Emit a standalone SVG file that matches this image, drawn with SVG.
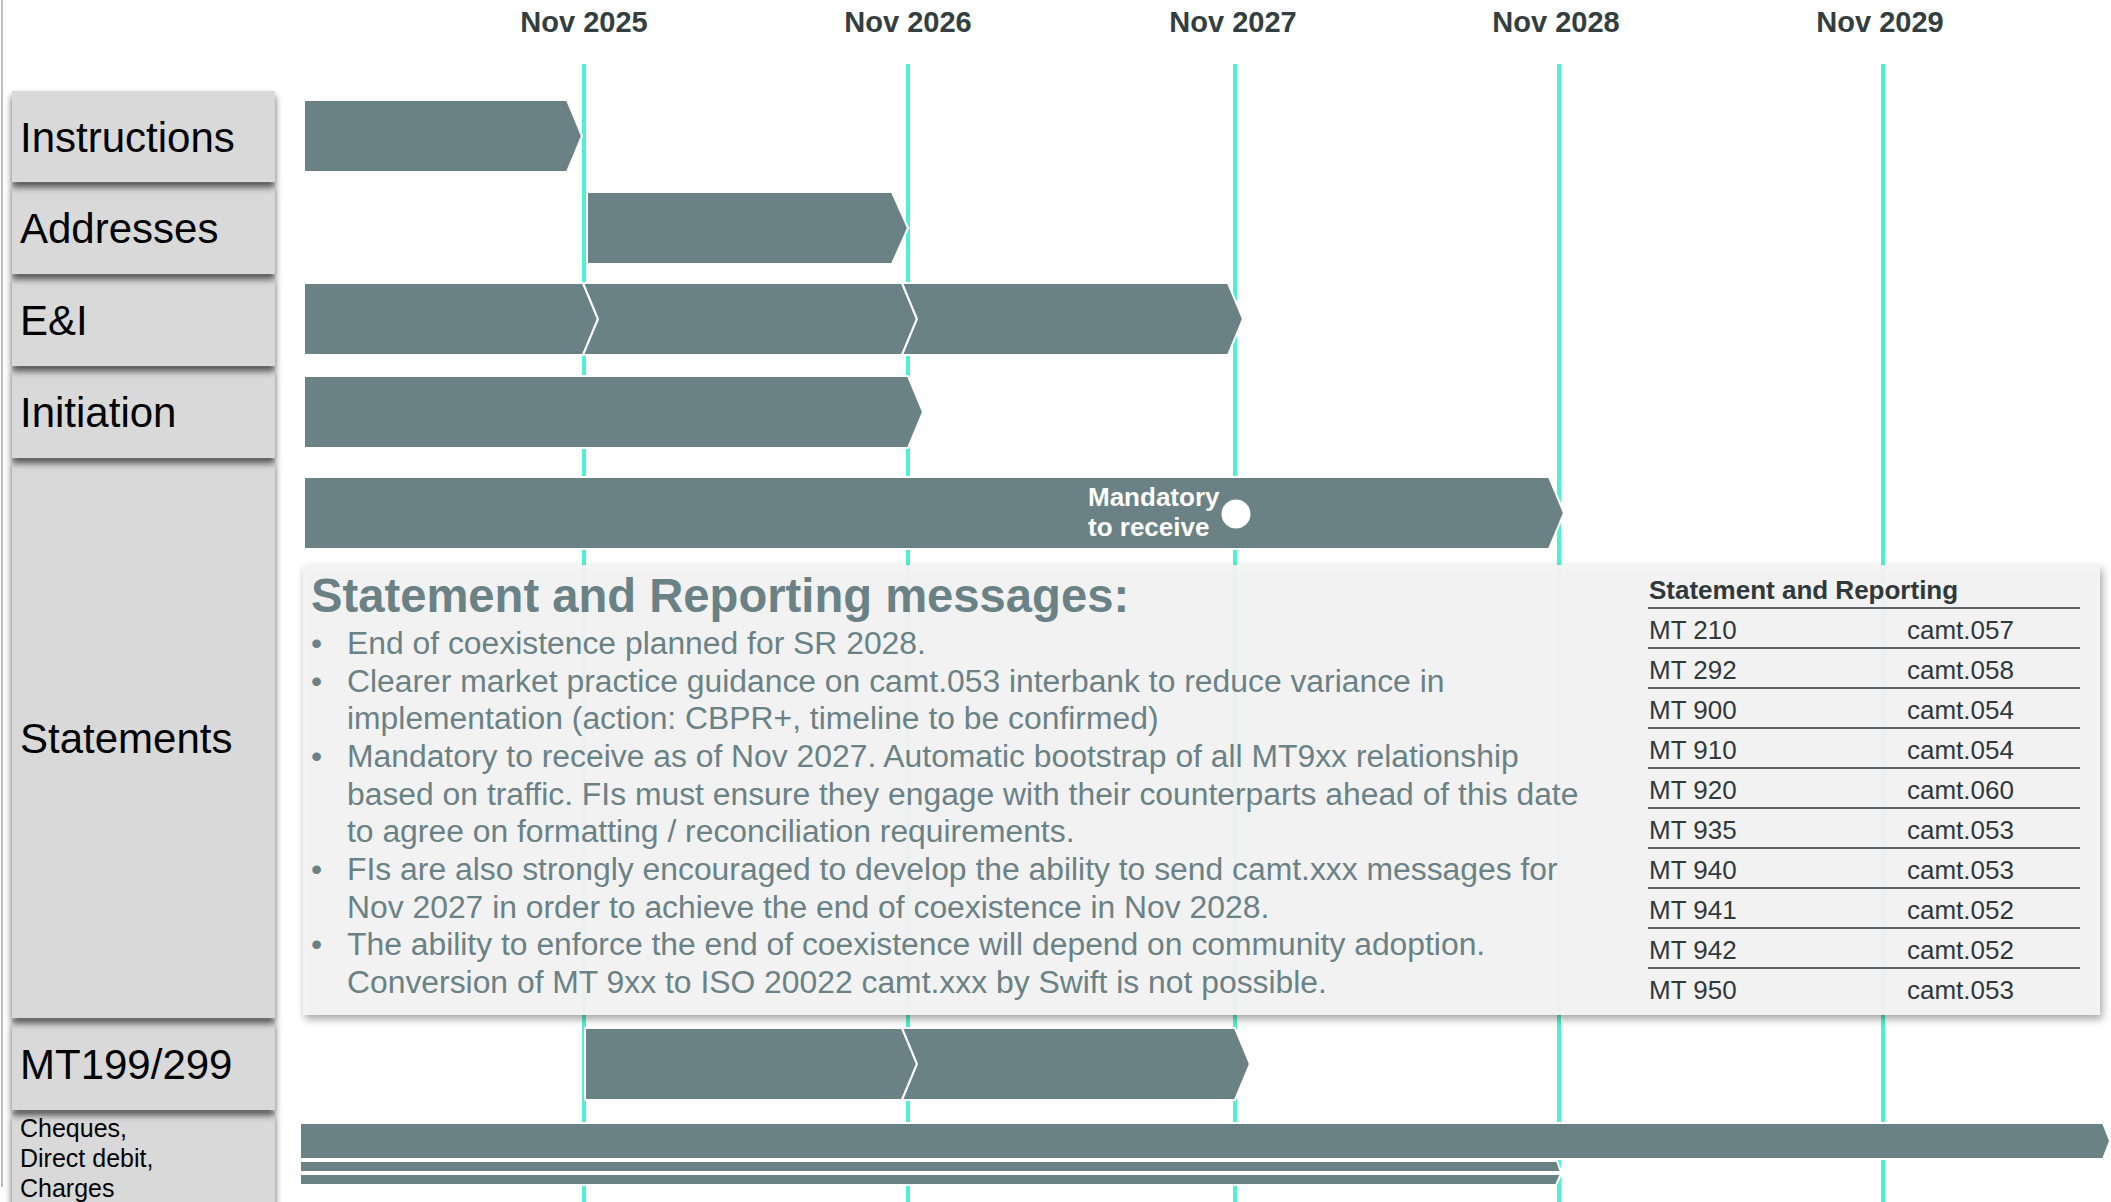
<svg xmlns="http://www.w3.org/2000/svg" width="2111" height="1202" viewBox="0 0 2111 1202">
<defs>
<style>
.lbl{font-family:"Liberation Sans",Arial,sans-serif;font-size:42px;fill:#000}
.lbls{font-family:"Liberation Sans",Arial,sans-serif;font-size:25px;fill:#000}
.hdr{font-family:"Liberation Sans",Arial,sans-serif;font-size:29px;font-weight:bold;fill:#333e40;text-anchor:middle}
.box{fill:#d9d9d9}
.bar{fill:#6a8185;stroke:#ffffff;stroke-width:2}
.grid{stroke:#52f0d2;stroke-width:4}
.mand{font-family:"Liberation Sans",Arial,sans-serif;font-size:26px;font-weight:bold;fill:#ffffff}
.ttl{font-family:"Liberation Sans",Arial,sans-serif;font-size:47.2px;font-weight:bold;fill:#6a8185}
.body{font-family:"Liberation Sans",Arial,sans-serif;font-size:31.85px;fill:#6a8185}
.th{font-family:"Liberation Sans",Arial,sans-serif;font-size:26px;font-weight:bold;fill:#2f393b}
.td{font-family:"Liberation Sans",Arial,sans-serif;font-size:26px;fill:#2f393b}
.rule{stroke:#2f393b;stroke-width:1.6}
</style>
<filter id="boxShadow" x="-5%" y="-10%" width="110%" height="140%">
<feDropShadow dx="0" dy="5" stdDeviation="3.5" flood-color="#000" flood-opacity="0.65"/>
</filter>
<filter id="panelShadow" x="-5%" y="-5%" width="110%" height="115%">
<feDropShadow dx="2" dy="4" stdDeviation="4" flood-color="#000" flood-opacity="0.4"/>
</filter>
</defs>
<rect width="2111" height="1202" fill="#ffffff"/>
<line x1="2" y1="0" x2="2" y2="1187" stroke="#bdbdbd" stroke-width="2"/>

<g id="timeline-headers">
<text class="hdr" x="584" y="32">Nov 2025</text>
<text class="hdr" x="908" y="32">Nov 2026</text>
<text class="hdr" x="1233" y="32">Nov 2027</text>
<text class="hdr" x="1556" y="32">Nov 2028</text>
<text class="hdr" x="1880" y="32">Nov 2029</text>
</g>

<g id="connectors">
<line class="grid" x1="584" y1="64" x2="584" y2="1202"/>
<line class="grid" x1="908" y1="64" x2="908" y2="1202"/>
<line class="grid" x1="1235" y1="64" x2="1235" y2="1202"/>
<line class="grid" x1="1559" y1="64" x2="1559" y2="1202"/>
<line class="grid" x1="1883" y1="64" x2="1883" y2="1202"/>
</g>

<g id="label-cheques">
<rect class="box" x="12" y="1112" width="263" height="100" filter="url(#boxShadow)"/>
<text class="lbls" x="20" y="1137">Cheques,</text>
<text class="lbls" x="20" y="1167">Direct debit,</text>
<text class="lbls" x="20" y="1197">Charges</text>
</g>
<g id="label-mt199">
<rect class="box" x="12" y="1020" width="263" height="90" filter="url(#boxShadow)"/>
<text class="lbl" x="20" y="1079">MT199/299</text>
</g>
<g id="label-statements">
<rect class="box" x="12" y="459" width="263" height="559" filter="url(#boxShadow)"/>
<text class="lbl" x="20" y="753">Statements</text>
</g>
<g id="label-initiation">
<rect class="box" x="12" y="367" width="263" height="91" filter="url(#boxShadow)"/>
<text class="lbl" x="20" y="427">Initiation</text>
</g>
<g id="label-ei">
<rect class="box" x="12" y="275" width="263" height="91" filter="url(#boxShadow)"/>
<text class="lbl" x="20" y="335">E&amp;I</text>
</g>
<g id="label-addresses">
<rect class="box" x="12" y="183" width="263" height="91" filter="url(#boxShadow)"/>
<text class="lbl" x="20" y="243">Addresses</text>
</g>
<g id="label-instructions">
<rect class="box" x="12" y="91" width="263" height="91" filter="url(#boxShadow)"/>
<text class="lbl" x="20" y="152">Instructions</text>
</g>

<g id="bar-instructions">
<path class="bar" d="M304,100 H567 L582,136 L567,172 H304 Z"/>
</g>
<g id="bar-addresses">
<path class="bar" d="M587,192 H892 L908,228 L892,264 H587 Z"/>
</g>
<g id="bar-ei">
<path class="bar" d="M304,283 H583 L598,319 L583,355 H304 Z"/>
<path class="bar" d="M583,283 H902 L917,319 L902,355 H583 L598,319 Z"/>
<path class="bar" d="M902,283 H1228 L1243,319 L1228,355 H902 L917,319 Z"/>
</g>
<g id="bar-initiation">
<path class="bar" d="M304,376 H908 L923,412 L908,448 H304 Z"/>
</g>
<g id="bar-statements">
<path class="bar" d="M304,477 H1549 L1564,513 L1549,549 H304 Z"/>
<circle cx="1236" cy="514" r="14.5" fill="#ffffff"/>
<text class="mand" x="1088" y="506">Mandatory</text>
<text class="mand" x="1088" y="536">to receive</text>
</g>

<g id="statement-panel">
<rect x="303" y="565" width="1797" height="450" fill="#f4f4f4" fill-opacity="0.93" filter="url(#panelShadow)"/>
<text class="ttl" x="311" y="612">Statement and Reporting messages:</text>
<g class="body">
<text x="311" y="654">•</text><text x="347" y="654">End of coexistence planned for SR 2028.</text>
<text x="311" y="692">•</text><text x="347" y="692">Clearer market practice guidance on camt.053 interbank to reduce variance in</text>
<text x="347" y="729">implementation (action: CBPR+, timeline to be confirmed)</text>
<text x="311" y="767">•</text><text x="347" y="767">Mandatory to receive as of Nov 2027. Automatic bootstrap of all MT9xx relationship</text>
<text x="347" y="805">based on traffic. FIs must ensure they engage with their counterparts ahead of this date</text>
<text x="347" y="842">to agree on formatting / reconciliation requirements.</text>
<text x="311" y="880">•</text><text x="347" y="880">FIs are also strongly encouraged to develop the ability to send camt.xxx messages for</text>
<text x="347" y="918">Nov 2027 in order to achieve the end of coexistence in Nov 2028.</text>
<text x="311" y="955">•</text><text x="347" y="955">The ability to enforce the end of coexistence will depend on community adoption.</text>
<text x="347" y="993">Conversion of MT 9xx to ISO 20022 camt.xxx by Swift is not possible.</text>
</g>
<g id="mapping-table">
<text class="th" x="1649" y="599">Statement and Reporting</text>
<line class="rule" x1="1648" y1="608" x2="2080" y2="608"/>
<line class="rule" x1="1648" y1="648" x2="2080" y2="648"/>
<line class="rule" x1="1648" y1="688" x2="2080" y2="688"/>
<line class="rule" x1="1648" y1="728" x2="2080" y2="728"/>
<line class="rule" x1="1648" y1="768" x2="2080" y2="768"/>
<line class="rule" x1="1648" y1="808" x2="2080" y2="808"/>
<line class="rule" x1="1648" y1="848" x2="2080" y2="848"/>
<line class="rule" x1="1648" y1="888" x2="2080" y2="888"/>
<line class="rule" x1="1648" y1="928" x2="2080" y2="928"/>
<line class="rule" x1="1648" y1="968" x2="2080" y2="968"/>
<text class="td" x="1649" y="639">MT 210</text><text class="td" x="1907" y="639">camt.057</text>
<text class="td" x="1649" y="679">MT 292</text><text class="td" x="1907" y="679">camt.058</text>
<text class="td" x="1649" y="719">MT 900</text><text class="td" x="1907" y="719">camt.054</text>
<text class="td" x="1649" y="759">MT 910</text><text class="td" x="1907" y="759">camt.054</text>
<text class="td" x="1649" y="799">MT 920</text><text class="td" x="1907" y="799">camt.060</text>
<text class="td" x="1649" y="839">MT 935</text><text class="td" x="1907" y="839">camt.053</text>
<text class="td" x="1649" y="879">MT 940</text><text class="td" x="1907" y="879">camt.053</text>
<text class="td" x="1649" y="919">MT 941</text><text class="td" x="1907" y="919">camt.052</text>
<text class="td" x="1649" y="959">MT 942</text><text class="td" x="1907" y="959">camt.052</text>
<text class="td" x="1649" y="999">MT 950</text><text class="td" x="1907" y="999">camt.053</text>
</g>
</g>

<g id="bar-mt199">
<path class="bar" d="M585,1028 H902 L917,1064 L902,1100 H585 Z"/>
<path class="bar" d="M902,1028 H1235 L1250,1064 L1235,1100 H902 L917,1064 Z"/>
</g>
<g id="bar-cheques">
<path class="bar" d="M300,1123 H2103 L2110,1141 L2103,1159 H300 Z"/>
<path class="bar" d="M300,1161 H1557 L1561,1172 H300 Z"/>
<path class="bar" d="M300,1174 H1561 L1556,1185 H300 Z"/>
</g>
</svg>
